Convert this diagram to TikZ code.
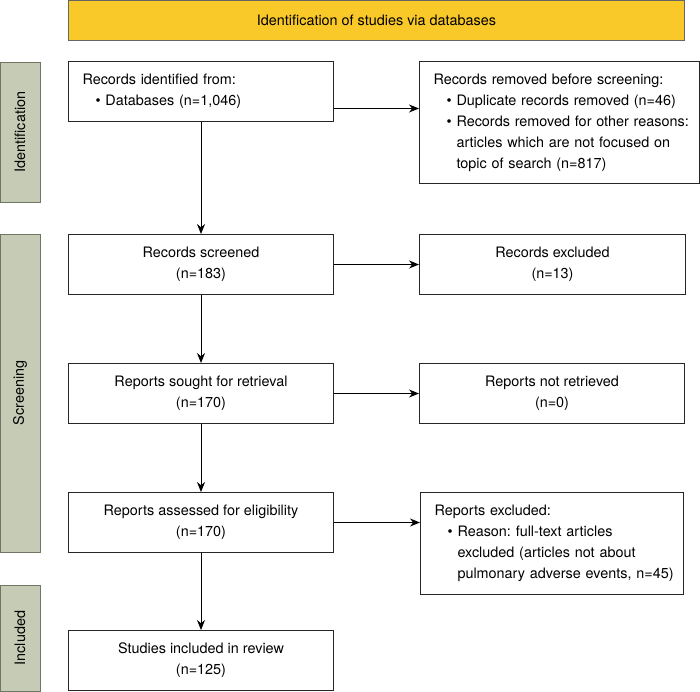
\documentclass[tikz,border=0pt]{standalone}
\usepackage{fontspec}
\setmainfont{TeX Gyre Heros}
\usetikzlibrary{arrows.meta}

\definecolor{headyellow}{RGB}{249,201,41}
\definecolor{stagegreen}{RGB}{198,203,181}
\definecolor{stageedge}{RGB}{112,118,100}
\newcommand{\bul}[1]{\hspace*{13pt}\makebox[10pt][l]{\textbullet}\mbox{#1}}
\newcommand{\cnt}[1]{\hspace*{23pt}\mbox{#1}}
\frenchspacing

\begin{document}
\begin{tikzpicture}[x=1pt,y=-1pt,
    font=\fontsize{14.4}{21}\selectfont,
    mainbox/.style={draw=black!85, line width=1pt, fill=white, anchor=north west,
      inner ysep=0pt, minimum height=60pt},
    leftbox/.style={mainbox, align=left, inner xsep=14pt},
    midbox/.style={mainbox, align=center, minimum width=265pt},
    stagebar/.style={draw=stageedge, fill=stagegreen, line width=1pt, rotate=90,
      minimum height=40pt, inner sep=0pt},
    flow/.style={-{Stealth[length=10pt,width=8pt]}, line width=1pt}]
				\useasboundingbox (0,0) rectangle (700,691);
				
				% header
				\node[draw=black!60, fill=headyellow, line width=1pt, anchor=north west,
				  minimum width=616pt, minimum height=40pt] (head) at (68,0)
				  {Identification of studies via databases};
				
				% stages
				\node[stagebar, minimum width=140pt] (idstage) at (20,132) {Identification};
				\node[stagebar, minimum width=318pt] (scstage) at (20,393) {Screening};
				\node[stagebar, minimum width=106pt] (instage) at (20,638) {Included};
				
				% main column
				\node[leftbox, text width=237pt] (idbox) at (68,61)
				  {Records identified from:\\\bul{Databases (n=1,046)}};
				\node[midbox] (scbox) at (68,234) {Records screened\\(n=183)};
				\node[midbox] (rtbox) at (68,363) {Reports sought for retrieval\\(n=170)};
				\node[midbox] (elbox) at (68,492) {Reports assessed for eligibility\\(n=170)};
				\node[midbox] (inbox) at (68,630) {Studies included in review\\(n=125)};
				
				% side column
				\node[leftbox, text width=252pt, minimum height=122pt] (rmbox) at (419,61)
				  {Records removed before screening:\\
				   \bul{Duplicate records removed (n=46)}\\
				   \bul{Records removed for other reasons:}\\
				   \cnt{articles which are not focused on}\\
				   \cnt{topic of search (n=817)}};
				\node[midbox, minimum width=266pt] (exbox) at (419,234) {Records excluded\\(n=13)};
				\node[midbox] (nrbox) at (419,363) {Reports not retrieved\\(n=0)};
				\node[leftbox, text width=235pt, minimum height=102pt] (rxbox) at (420,492)
				  {Reports excluded:\\
				   \bul{Reason: full-text articles}\\
				   \cnt{excluded (articles not about}\\
				   \cnt{pulmonary adverse events, n=45)}};
				
				% arrows
				\draw[flow] (idbox) -- (scbox);
				\draw[flow] (scbox) -- (rtbox);
				\draw[flow] (rtbox) -- (elbox);
				\draw[flow] (elbox) -- (inbox);
				\draw[flow] ([yshift=-17pt]idbox.east) -- ([yshift=-17pt]idbox.east -| rmbox.west);
				\draw[flow] (scbox) -- (exbox);
				\draw[flow] (rtbox) -- (nrbox);
				\draw[flow] (elbox.east) -- (elbox.east -| rxbox.west);
			\end{tikzpicture}
\end{document}
